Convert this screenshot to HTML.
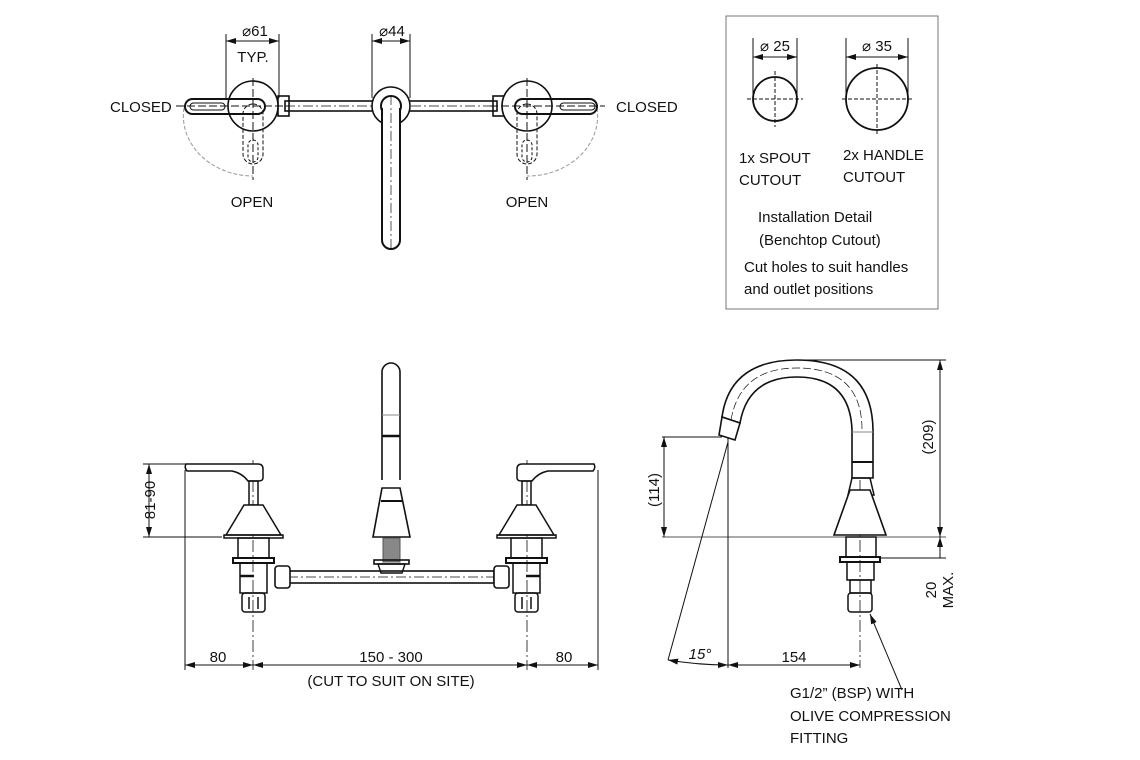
<!DOCTYPE html>
<html><head><meta charset="utf-8"><style>
html,body{margin:0;padding:0;background:#fff;}
svg{display:block;font-family:"Liberation Sans",sans-serif;}
text{font-size:15px;fill:#111;}
</style></head><body>
<svg width="1140" height="760" viewBox="0 0 1140 760" xmlns="http://www.w3.org/2000/svg">
<defs>
<marker id="a" viewBox="0 0 10 6" refX="10" refY="3" markerWidth="10" markerHeight="6" orient="auto-start-reverse" markerUnits="userSpaceOnUse"><path d="M0,0 L10,3 L0,6 z" fill="#111"/></marker>
</defs>
<g fill="none" stroke="#111" stroke-width="1">
<!-- TOP VIEW -->
<!-- dims -->
<line x1="226" y1="34" x2="226" y2="98"/><line x1="279" y1="34" x2="279" y2="98"/>
<line x1="226" y1="41" x2="279" y2="41" marker-start="url(#a)" marker-end="url(#a)"/>
<line x1="372" y1="34" x2="372" y2="98"/><line x1="410" y1="34" x2="410" y2="98"/>
<line x1="372" y1="41" x2="410" y2="41" marker-start="url(#a)" marker-end="url(#a)"/>
<!-- dashed swing arcs -->
<path d="M184,108 A70,60 0 0 0 253,176" stroke="#999" stroke-dasharray="4,2"/>
<path d="M597,108 A70,60 0 0 1 527,176" stroke="#999" stroke-dasharray="4,2"/>
<!-- bar -->
<rect x="285" y="101" width="212" height="10" stroke-width="1.6"/>
<line x1="285" y1="106" x2="497" y2="106" stroke-dasharray="10,3,2,3" stroke-width="0.7"/>
<rect x="278" y="96" width="11" height="20" stroke-width="1.6"/>
<rect x="493" y="96" width="11" height="20" stroke-width="1.6"/>
<!-- left handle -->
<circle cx="253" cy="106" r="25" stroke-width="1.6" fill="#fff"/>
<rect x="185" y="99" width="80" height="15" rx="7.5" stroke-width="2"/>
<rect x="190" y="103" width="35" height="7" rx="3.5"/>
<rect x="243" y="104" width="20" height="60" rx="10" stroke-dasharray="4,2"/>
<rect x="248" y="140" width="10" height="22" rx="5" stroke-dasharray="3,2"/>
<line x1="176" y1="106" x2="290" y2="106" stroke-dasharray="8,3"/>
<line x1="253" y1="78" x2="253" y2="180" stroke-dasharray="8,3"/>
<!-- right handle -->
<circle cx="527" cy="106" r="25" stroke-width="1.6" fill="#fff"/>
<rect x="515" y="99" width="82" height="15" rx="7.5" stroke-width="2"/>
<rect x="560" y="103" width="35" height="7" rx="3.5"/>
<rect x="517" y="104" width="20" height="60" rx="10" stroke-dasharray="4,2"/>
<rect x="522" y="140" width="10" height="22" rx="5" stroke-dasharray="3,2"/>
<line x1="490" y1="106" x2="605" y2="106" stroke-dasharray="8,3"/>
<line x1="527" y1="78" x2="527" y2="180" stroke-dasharray="8,3"/>
<!-- spout -->
<circle cx="391" cy="106" r="19" stroke-width="1.6" fill="#fff"/>
<circle cx="391" cy="106" r="10" stroke-width="2"/>
<path d="M382,108 L382,240 A9,9 0 0 0 400,240 L400,108" stroke-width="2" fill="#fff"/>
<line x1="391" y1="95" x2="391" y2="252" stroke-dasharray="10,3,2,3" stroke-width="0.7"/>

<!-- INSTALLATION BOX -->
<rect x="726" y="16" width="212" height="293" stroke="#777"/>
<line x1="753" y1="38" x2="753" y2="99"/><line x1="797" y1="38" x2="797" y2="99"/>
<line x1="753" y1="57" x2="797" y2="57" marker-start="url(#a)" marker-end="url(#a)"/>
<circle cx="775" cy="99" r="22" stroke-width="1.8"/>
<line x1="747" y1="99" x2="803" y2="99" stroke-dasharray="4,2"/><line x1="775" y1="71" x2="775" y2="127" stroke-dasharray="4,2"/>
<line x1="846" y1="38" x2="846" y2="99"/><line x1="908" y1="38" x2="908" y2="99"/>
<line x1="846" y1="57" x2="908" y2="57" marker-start="url(#a)" marker-end="url(#a)"/>
<circle cx="877" cy="99" r="31" stroke-width="1.8"/>
<line x1="842" y1="99" x2="912" y2="99" stroke-dasharray="4,2"/><line x1="877" y1="64" x2="877" y2="134" stroke-dasharray="4,2"/>

<!-- FRONT VIEW -->
<!-- dims -->
<line x1="143" y1="464" x2="245" y2="464"/><line x1="143" y1="537" x2="222" y2="537"/>
<line x1="149" y1="464" x2="149" y2="537" marker-start="url(#a)" marker-end="url(#a)"/>
<line x1="185" y1="470" x2="185" y2="670"/><line x1="598" y1="470" x2="598" y2="670"/>
<line x1="253" y1="460" x2="253" y2="670" stroke-dasharray="12,3,2,3" stroke-width="0.8"/>
<line x1="527" y1="460" x2="527" y2="670" stroke-dasharray="12,3,2,3" stroke-width="0.8"/>
<line x1="185" y1="665" x2="253" y2="665" marker-start="url(#a)" marker-end="url(#a)"/>
<line x1="253" y1="665" x2="527" y2="665" marker-start="url(#a)" marker-end="url(#a)"/>
<line x1="527" y1="665" x2="598" y2="665" marker-start="url(#a)" marker-end="url(#a)"/>
<!-- pipe -->
<rect x="288" y="571" width="206" height="12" stroke-width="1.6"/>
<line x1="288" y1="577" x2="494" y2="577" stroke-dasharray="10,3,2,3" stroke-width="0.7"/>
<rect x="275" y="566" width="15" height="22" rx="3" stroke-width="1.6" fill="#fff"/>
<rect x="494" y="566" width="15" height="22" rx="3" stroke-width="1.6" fill="#fff"/>
<!-- spout -->
<path d="M382,480 L382,372 A9,9 0 0 1 400,372 L400,480" stroke-width="1.6"/>
<line x1="382" y1="415" x2="400" y2="415" stroke="#888"/>
<line x1="382" y1="436" x2="400" y2="436" stroke-width="2.5"/>
<path d="M382,488 L400,488 L410,537 L373,537 Z" stroke-width="1.6" fill="#fff"/>
<line x1="381" y1="501" x2="402" y2="501" stroke-width="2"/>
<rect x="383" y="538" width="17" height="24" fill="#888" stroke="#555"/>
<rect x="374" y="560" width="35" height="4" stroke-width="1.6"/>
<path d="M378,564 L405,564 L402,573 L381,573 Z" stroke-width="1.4"/>
</g>
<!-- handles front -->
<g id="hf" fill="none" stroke="#111" stroke-width="1.5">
<path d="M186,464 L258,464 Q263,464 263,469 L263,478 Q263,481 258,481 L248,481 Q242,473 232,471 L187,471 Q184,467.5 186,464 Z" fill="#fff"/>
<rect x="249" y="481" width="9" height="24"/>
<path d="M244,505 L263,505 L281,535 L226,535 Z" fill="#fff"/>
<rect x="224" y="535" width="59" height="3"/>
<rect x="238" y="538" width="31" height="20"/>
<rect x="233" y="558" width="41" height="5" stroke-width="2"/>
<rect x="240" y="563" width="27" height="30"/>
<line x1="240" y1="576" x2="254" y2="576" stroke-width="2.5"/>
<rect x="242" y="593" width="23" height="19" rx="3"/>
<line x1="249" y1="597" x2="249" y2="609"/><line x1="258" y1="597" x2="258" y2="609"/>
</g>
<use href="#hf" transform="translate(780,0) scale(-1,1)"/>

<g fill="none" stroke="#111" stroke-width="1">
<!-- SIDE VIEW -->
<line x1="662" y1="537" x2="946" y2="537" stroke="#555"/>
<line x1="800" y1="360" x2="946" y2="360"/>
<line x1="880" y1="558" x2="946" y2="558"/>
<line x1="940" y1="360" x2="940" y2="537" marker-start="url(#a)" marker-end="url(#a)"/>
<line x1="940" y1="537" x2="940" y2="558" marker-start="url(#a)"/>
<line x1="662" y1="437" x2="722" y2="437"/>
<line x1="664" y1="437" x2="664" y2="537" marker-start="url(#a)" marker-end="url(#a)"/>
<line x1="728" y1="437" x2="728" y2="668"/>
<line x1="860" y1="440" x2="860" y2="668" stroke-dasharray="12,3,2,3" stroke-width="0.8"/>
<line x1="728" y1="442" x2="668" y2="660"/>
<path d="M668,660 Q698,665 728,665" marker-start="url(#a)" marker-end="url(#a)"/>
<line x1="728" y1="665" x2="860" y2="665" marker-start="url(#a)" marker-end="url(#a)"/>
<line x1="902" y1="690" x2="870" y2="614" marker-end="url(#a)"/>
<!-- gooseneck -->
<path d="M722,417 Q730,360 797,360 Q872,360 873,430 L873,478 L852,478 L852,430 Q850,377 797,377 Q748,377 740,423 Z" stroke-width="1.6" fill="#fff"/>
<path d="M722,417 L740,423 L735,440 L719,435 Z" stroke-width="1.6" fill="#fff"/>
<path d="M731,420 Q740,368 797,368 Q862,368 862,430" stroke-dasharray="8,3" stroke-width="0.7"/>
<line x1="852" y1="432" x2="873" y2="432" stroke="#888"/>
<line x1="852" y1="462" x2="873" y2="462" stroke-width="2"/>
<path d="M852,478 L870,478 L874,495 L848,495 Z" stroke-width="1.5"/>
<path d="M850,490 L870,490 L886,535 L834,535 Z" stroke-width="1.6" fill="#fff"/>
<rect x="846" y="537" width="30" height="20" stroke-width="1.5"/>
<rect x="840" y="557" width="40" height="5" stroke-width="2"/>
<rect x="847" y="562" width="27" height="18" stroke-width="1.5"/>
<rect x="850" y="580" width="21" height="13" stroke-width="1.5"/>
<rect x="848" y="593" width="24" height="19" rx="3" stroke-width="1.5"/>
</g>

<!-- TEXT -->
<text x="255" y="36" text-anchor="middle">⌀61</text>
<text x="253" y="62" text-anchor="middle">TYP.</text>
<text x="392" y="36" text-anchor="middle">⌀44</text>
<text x="110" y="112">CLOSED</text>
<text x="616" y="112">CLOSED</text>
<text x="252" y="207" text-anchor="middle">OPEN</text>
<text x="527" y="207" text-anchor="middle">OPEN</text>
<text x="775" y="51" text-anchor="middle">⌀ 25</text>
<text x="877" y="51" text-anchor="middle">⌀ 35</text>
<text x="739" y="163">1x SPOUT</text>
<text x="739" y="185">CUTOUT</text>
<text x="843" y="160">2x HANDLE</text>
<text x="843" y="182">CUTOUT</text>
<text x="758" y="222">Installation Detail</text>
<text x="759" y="245">(Benchtop Cutout)</text>
<text x="744" y="272">Cut holes to suit handles</text>
<text x="744" y="294">and outlet positions</text>
<text transform="translate(155,500) rotate(-90)" text-anchor="middle">81-90</text>
<text x="218" y="662" text-anchor="middle">80</text>
<text x="391" y="662" text-anchor="middle">150 - 300</text>
<text x="564" y="662" text-anchor="middle">80</text>
<text x="391" y="686" text-anchor="middle">(CUT TO SUIT ON SITE)</text>
<text transform="translate(659,490) rotate(-90)" text-anchor="middle">(114)</text>
<text transform="translate(933,437) rotate(-90)" text-anchor="middle">(209)</text>
<text transform="translate(936,590) rotate(-90)" text-anchor="middle">20</text>
<text transform="translate(953,590) rotate(-90)" text-anchor="middle">MAX.</text>
<text x="700" y="659" text-anchor="middle" font-style="italic">15°</text>
<text x="794" y="662" text-anchor="middle">154</text>
<text x="790" y="698">G1/2” (BSP) WITH</text>
<text x="790" y="721">OLIVE COMPRESSION</text>
<text x="790" y="743">FITTING</text>
</svg>
</body></html>
